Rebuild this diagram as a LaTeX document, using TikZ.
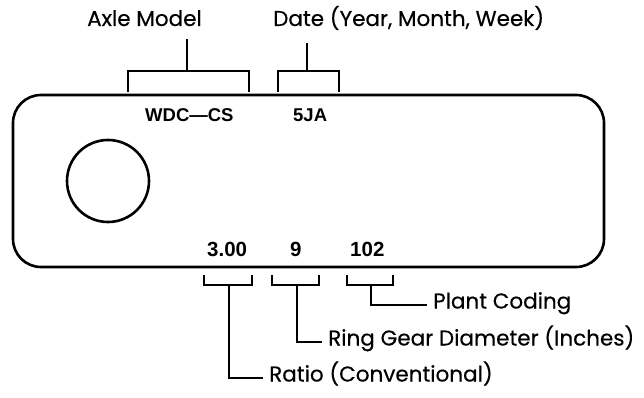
\documentclass[tikz,border=0pt]{standalone}
\usepackage{fontspec}
\setmainfont{Liberation Sans}
\newfontfamily\labelfont[FakeBold=0.4]{Poppins}
\usetikzlibrary{positioning,calc}

\begin{document}
\begin{tikzpicture}[x=1pt,y=-1pt,
  plate/.style={line width=2.6pt,rounded corners=28pt},
  bracket/.style={line width=1.8pt},
  code/.style={inner sep=0pt,anchor=base west,font=\bfseries\fontsize{20.5}{22}\selectfont},
  caption/.style={inner sep=0pt,anchor=base west,font=\labelfont\fontsize{21.5}{24}\selectfont},
  callout/.style={caption,anchor=west,inner xsep=6pt,text height=0.7em,text depth=0pt}]
  \useasboundingbox (0,0) rectangle (644,398);
  % plate and hole
  \draw[plate] (13,95) rectangle (604,267);
  \node[draw,circle,line width=2.6pt,minimum size=82pt,inner sep=0pt] (hole) at (108,181) {};
  % stamped codes
  \node[code,font=\bfseries\fontsize{18.5}{20}\selectfont] (model) at (145,122) {WDC---CS};
  \node[code,font=\bfseries\fontsize{18.5}{20}\selectfont] (date) at (293,122) {5JA};
  \node[code] (ratio) at (207,256) {3.00};
  \node[code] (gear) at (290,256) {9};
  \node[code] (plant) at (350,256) {102};
  % top labels
  \node[caption] (modellbl) at (87,26) {Axle Model};
  \node[caption] (datelbl) at (273,26) {Date (Year, Month, Week)};
  \coordinate (modelstem) at (187,71);
  \coordinate (datestem) at (307,71);
  \draw[bracket] (128,92) |- (249,71) -- (249,92);
  \draw[bracket] (278,92) |- (339,71) -- (339,92);
  \draw[bracket,shorten >=13pt] (modelstem) -- (modelstem |- modellbl.south);
  \draw[bracket,shorten >=13pt] (datestem) -- (datestem |- datelbl.south);
  % bottom labels
  \node[callout] (plantlbl) at (427,305) {Plant Coding};
  \node[callout] (gearlbl) at (322,342) {Ring Gear Diameter (Inches)};
  \node[callout] (ratiolbl) at (263,378) {Ratio (Conventional)};
  \coordinate (ratiostem) at (229,285);
  \coordinate (gearstem) at (297,285);
  \coordinate (plantstem) at (371,285);
  \draw[bracket] (204,275) |- (252,285) -- (252,275);
  \draw[bracket] (272,275) |- (319,285) -- (319,275);
  \draw[bracket] (347,275) |- (393,285) -- (393,275);
  \draw[bracket] (ratiostem) |- (ratiolbl.west);
  \draw[bracket] (gearstem) |- (gearlbl.west);
  \draw[bracket] (plantstem) |- (plantlbl.west);
\end{tikzpicture}
\end{document}
